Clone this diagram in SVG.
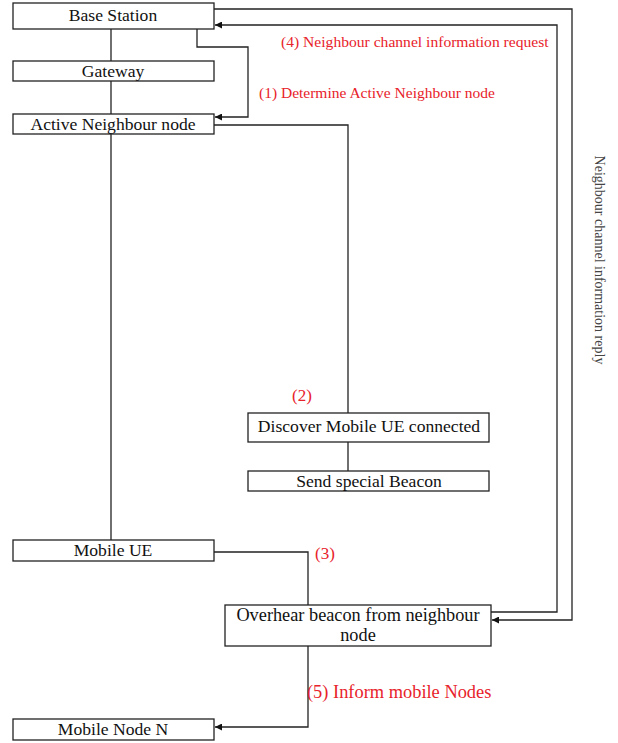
<svg xmlns="http://www.w3.org/2000/svg" width="618" height="743" viewBox="0 0 618 743">
<style>
.box{fill:#fff;stroke:#222;stroke-width:1.3}
.t{font-family:"Liberation Serif","Times New Roman",serif;font-size:17.6px;fill:#111;text-anchor:middle}
.r{font-family:"Liberation Serif","Times New Roman",serif;font-size:15.5px;fill:#e8222a}
.c{fill:none;stroke:#222;stroke-width:1.3}
</style>
<defs>
<marker id="ah" viewBox="0 0 10 10" refX="10" refY="5" markerWidth="8" markerHeight="7" markerUnits="userSpaceOnUse" orient="auto">
<path d="M0,0 L10,5 L0,10 z" fill="#111"/>
</marker>
</defs>
<rect width="618" height="743" fill="#fff"/>
<g id="connectors">
<path class="c" d="M111,29 V61"/>
<path class="c" d="M111,81 V114"/>
<path class="c" d="M111,134 V540"/>
<path class="c" d="M197,29 V47 H248 V117 H215" marker-end="url(#ah)"/>
<path class="c" d="M214,9 H572 V620 H492" marker-end="url(#ah)"/>
<path class="c" d="M491,612 H557 V25 H215" marker-end="url(#ah)"/>
<path class="c" d="M214,125 H348 V413"/>
<path class="c" d="M348,442 V471"/>
<path class="c" d="M214,552 H308 V605"/>
<path class="c" d="M308,646 V727 H215" marker-end="url(#ah)"/>
</g>
<g id="base-station"><rect class="box" x="13" y="3" width="201" height="26"/><text class="t" x="113" y="21">Base Station</text></g>
<g id="gateway"><rect class="box" x="13" y="61" width="201" height="20"/><text class="t" x="113" y="77">Gateway</text></g>
<g id="active-neighbour"><rect class="box" x="13" y="114" width="201" height="20"/><text class="t" x="113" y="130">Active Neighbour node</text></g>
<g id="discover"><rect class="box" x="248" y="413" width="241" height="29"/><text class="t" x="369" y="432">Discover Mobile UE connected</text></g>
<g id="send-beacon"><rect class="box" x="248" y="471" width="241" height="20"/><text class="t" x="369" y="487">Send special Beacon</text></g>
<g id="mobile-ue"><rect class="box" x="13" y="540" width="201" height="21"/><text class="t" x="113" y="556">Mobile UE</text></g>
<g id="overhear"><rect class="box" x="225" y="605" width="266" height="41"/><text class="t" x="358" y="621" style="font-size:18.3px">Overhear beacon from neighbour</text><text class="t" x="358" y="641" style="font-size:18.3px">node</text></g>
<g id="mobile-node-n"><rect class="box" x="13" y="719" width="201" height="21"/><text class="t" x="113" y="735">Mobile Node N</text></g>
<g id="labels">
<text class="r" x="281" y="47" style="font-size:15.6px">(4) Neighbour channel information request</text>
<text class="r" x="259" y="98">(1) Determine Active Neighbour node</text>
<text class="r" x="292" y="401" style="font-size:17px">(2)</text>
<text class="r" x="315" y="559" style="font-size:17px">(3)</text>
<text class="r" x="307" y="698" style="font-size:18.4px">(5) Inform mobile Nodes</text>
<text x="0" y="0" transform="translate(595,260) rotate(90)" font-family="'Liberation Serif','Times New Roman',serif" font-size="14" fill="#444" text-anchor="middle">Neighbour channel information reply</text>
</g>
</svg>
